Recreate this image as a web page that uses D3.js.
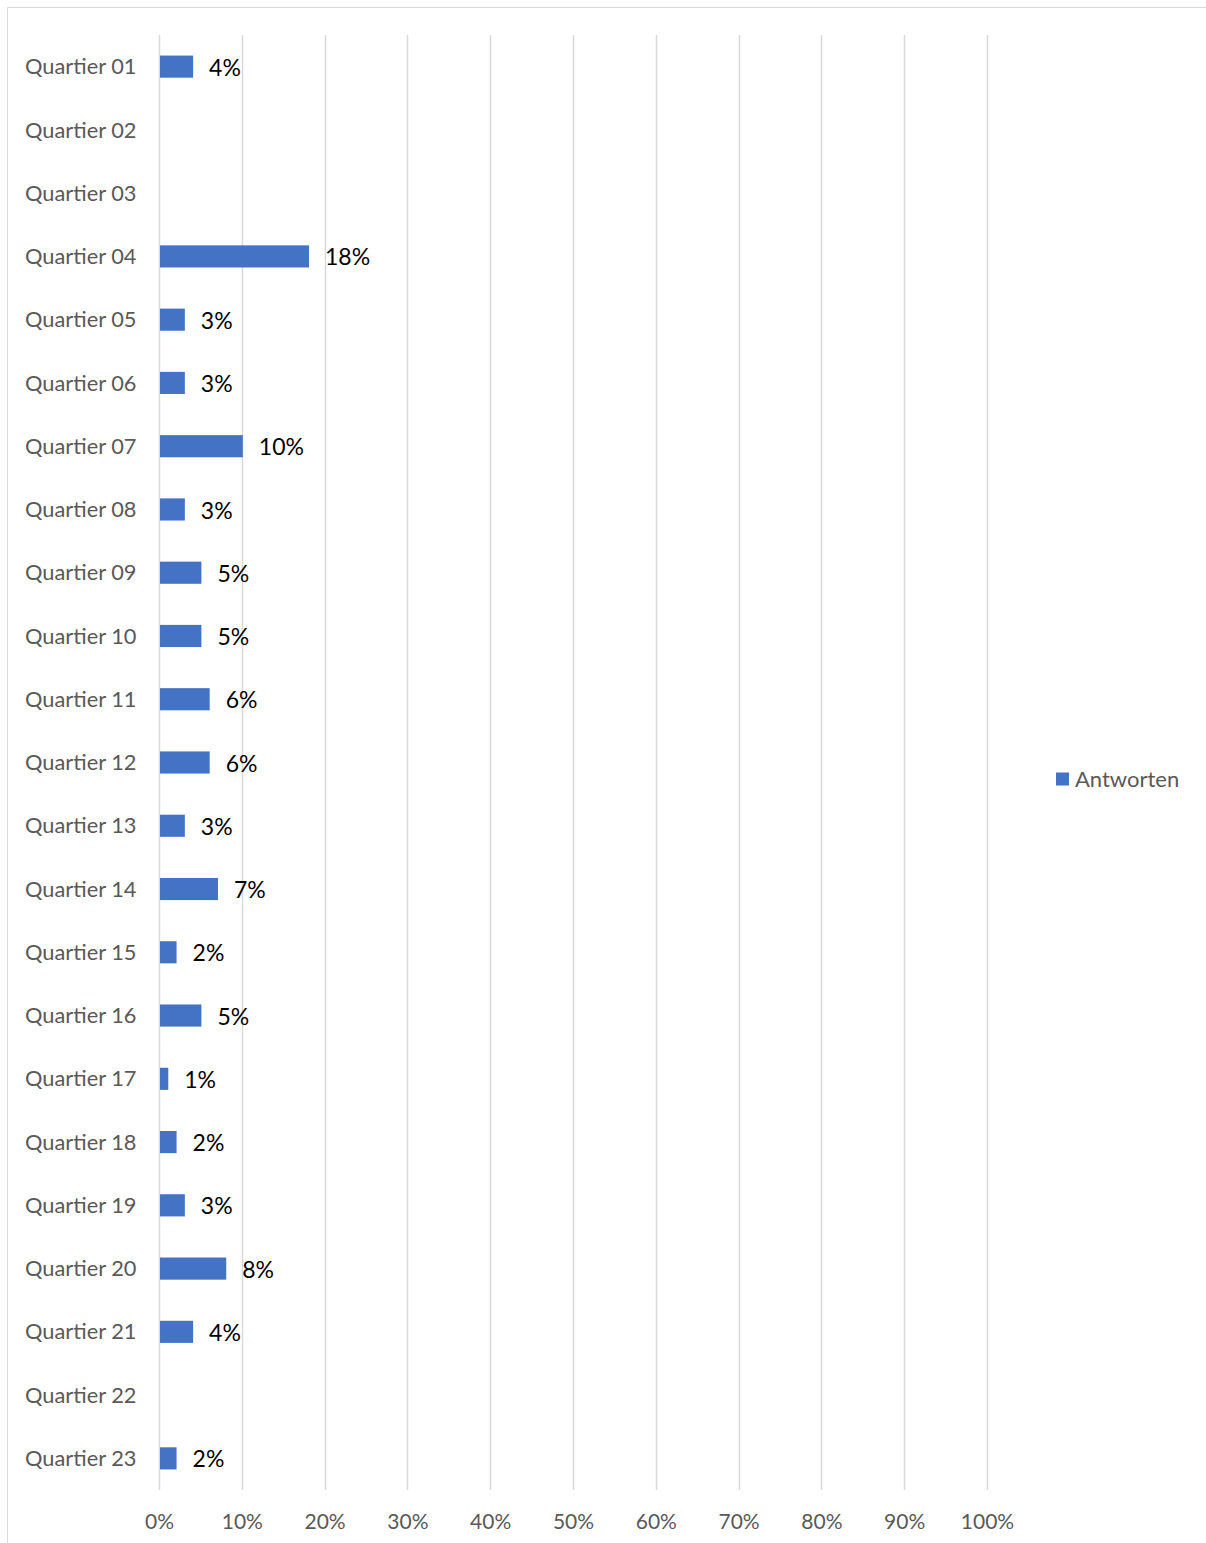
<!DOCTYPE html>
<html>
<head>
<meta charset="utf-8">
<script src="https://cdn.jsdelivr.net/npm/d3@7"></script>
<style>
  html, body { margin: 0; padding: 0; background: #fff; }
  svg { display: block; }
</style>
</head>
<body>
<svg id="chart" width="1206" height="1543"></svg>
<script>
// Share of answers per quarter (percent)
const categories = [
  "Quartier 01", "Quartier 02", "Quartier 03", "Quartier 04", "Quartier 05",
  "Quartier 06", "Quartier 07", "Quartier 08", "Quartier 09", "Quartier 10",
  "Quartier 11", "Quartier 12", "Quartier 13", "Quartier 14", "Quartier 15",
  "Quartier 16", "Quartier 17", "Quartier 18", "Quartier 19", "Quartier 20",
  "Quartier 21", "Quartier 22", "Quartier 23"
];
const values = [4, null, null, 18, 3, 3, 10, 3, 5, 5, 6, 6, 3, 7, 2, 5, 1, 2, 3, 8, 4, null, 2];
const tickValues = [0, 10, 20, 30, 40, 50, 60, 70, 80, 90, 100];
const seriesName = "Antworten";

const font = "Lato, 'Open Sans', sans-serif";
const barColor = "#4472C4";
const gridColor = "#d9d9d9";
const textGray = "#595959";

const svg = d3.select("#chart");

// chart frame
svg.append("path")
  .attr("d", "M7.5,1543 V7.5 H1206")
  .attr("fill", "none")
  .attr("stroke", gridColor)
  .attr("stroke-width", 1);

const plot = { left: 159, right: 987, top: 35, bottom: 1490 };

const x = d3.scaleLinear().domain([0, 100]).range([plot.left, plot.right]);
const y = d3.scaleBand().domain(categories).range([plot.top, plot.bottom]).paddingInner(0.65).paddingOuter(0.325);

// vertical gridlines
svg.append("g")
  .selectAll("line")
  .data(tickValues)
  .join("line")
  .attr("x1", d => Math.round(x(d)) + 0.5)
  .attr("x2", d => Math.round(x(d)) + 0.5)
  .attr("y1", plot.top)
  .attr("y2", plot.bottom)
  .attr("stroke", gridColor)
  .attr("stroke-width", 1.5);

// x axis labels
const xAxis = d3.axisBottom(x).tickValues(tickValues).tickFormat(d => d + "%").tickSize(0).tickPadding(0);
const gx = svg.append("g").attr("transform", `translate(0,${plot.bottom})`).call(xAxis);
gx.select(".domain").remove();
gx.selectAll("text")
  .attr("y", 32)
  .attr("dy", "0.35em")
  .attr("fill", textGray)
  .style("font-family", font)
  .style("font-size", "21px");

// y axis labels
const yAxis = d3.axisLeft(y).tickSize(0).tickPadding(0);
const gy = svg.append("g").attr("transform", `translate(25,0)`).call(yAxis);
gy.select(".domain").remove();
gy.selectAll("text")
  .attr("x", 0)
  .attr("dy", "0.35em")
  .attr("text-anchor", "start")
  .attr("fill", textGray)
  .style("font-family", font)
  .style("font-size", "21.8px");

const rows = categories.map((c, i) => ({ cat: c, value: values[i] })).filter(d => d.value != null);

// bars
svg.append("g")
  .selectAll("rect")
  .data(rows)
  .join("rect")
  .attr("x", x(0) + 1)
  .attr("y", d => y(d.cat))
  .attr("width", d => x(d.value) - x(0))
  .attr("height", y.bandwidth())
  .attr("fill", barColor);

// value labels
svg.append("g")
  .selectAll("text")
  .data(rows)
  .join("text")
  .attr("x", d => x(d.value) + 17)
  .attr("y", d => y(d.cat) + y.bandwidth() / 2 + 1)
  .attr("dy", "0.35em")
  .attr("fill", "#000")
  .style("font-family", font)
  .style("font-size", "23px")
  .text(d => d.value + "%");

// legend
const legend = svg.append("g").attr("transform", "translate(1056,779)");
legend.append("rect").attr("x", 0).attr("y", -6.5).attr("width", 13).attr("height", 13).attr("fill", barColor);
legend.append("text")
  .attr("x", 19)
  .attr("dy", "0.35em")
  .attr("fill", textGray)
  .style("font-family", font)
  .style("font-size", "22px")
  .text(seriesName);
</script>
</body>
</html>
